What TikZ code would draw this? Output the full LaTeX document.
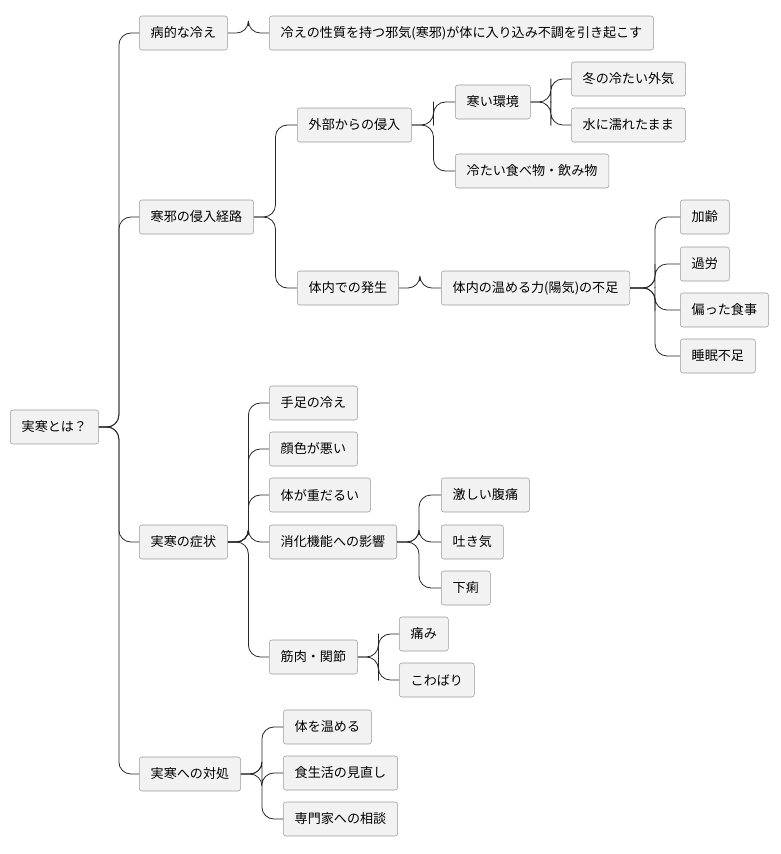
\documentclass[tikz,border=0pt]{standalone}
\usepackage{fontspec}
\setmainfont{Noto Sans CJK JP}
\usetikzlibrary{calc}
\definecolor{boxfill}{HTML}{F2F2F2}
\definecolor{boxline}{HTML}{9A9A9A}
\begin{document}
\begin{tikzpicture}[x=0.75pt,y=-0.75pt,
  box/.style={draw=boxline,fill=boxfill,rounded corners=2pt,anchor=west,
    minimum height=25.5pt,inner xsep=8.6pt,font=\fontsize{9.8}{11}\selectfont},
  link/.style={draw=black!85,line width=0.6pt,rounded corners=9pt}]
\useasboundingbox (0,0) rectangle (781,854);
% root
\node[box] (root) at (10,427) {実寒とは？};
% first level
\node[box] (byo) at (139,33) {病的な冷え};
\node[box] (keiro) at (139,217) {寒邪の侵入経路};
\node[box] (sho) at (139,542) {実寒の症状};
\node[box] (taisho) at (139,774) {実寒への対処};
% definition
\node[box] (teigi) at (269,33) {冷えの性質を持つ邪気(寒邪)が体に入り込み不調を引き起こす};
% routes
\node[box] (gaibu) at (297,125) {外部からの侵入};
\node[box] (tainai) at (297,288) {体内での発生};
\node[box] (samui) at (455,102) {寒い環境};
\node[box] (tabe) at (455,171) {冷たい食べ物・飲み物};
\node[box] (fuyu) at (571,79) {冬の冷たい外気};
\node[box] (mizu) at (571,125) {水に濡れたまま};
\node[box] (yoki) at (441,288) {体内の温める力(陽気)の不足};
\node[box] (karei) at (680,217) {加齢};
\node[box] (karo) at (680,264) {過労};
\node[box] (katayo) at (680,310) {偏った食事};
\node[box] (suimin) at (680,356) {睡眠不足};
% symptoms
\node[box] (teashi) at (269,403) {手足の冷え};
\node[box] (kao) at (269,449) {顔色が悪い};
\node[box] (omo) at (269,495) {体が重だるい};
\node[box] (shoka) at (269,542) {消化機能への影響};
\node[box] (kin) at (269,657) {筋肉・関節};
\node[box] (fuku) at (441,495) {激しい腹痛};
\node[box] (haki) at (441,542) {吐き気};
\node[box] (geri) at (441,588) {下痢};
\node[box] (itami) at (399,634) {痛み};
\node[box] (kowa) at (399,680) {こわばり};
% care
\node[box] (atata) at (283,727) {体を温める};
\node[box] (shoku) at (283,773) {食生活の見直し};
\node[box] (senmon) at (283,819) {専門家への相談};
% connectors
\foreach \p/\c in {root/byo,root/keiro,root/sho,root/taisho,byo/teigi,
  keiro/gaibu,keiro/tainai,gaibu/samui,gaibu/tabe,samui/fuyu,samui/mizu,
  tainai/yoki,yoki/karei,yoki/karo,yoki/katayo,yoki/suimin,
  sho/teashi,sho/kao,sho/omo,sho/shoka,sho/kin,shoka/fuku,shoka/haki,shoka/geri,
  kin/itami,kin/kowa,taisho/atata,taisho/shoku,taisho/senmon}
  \draw[link] (\p.east) -| ($(\p.east)!.5!(\c.west)$) |- (\c.west);
\end{tikzpicture}
\end{document}
